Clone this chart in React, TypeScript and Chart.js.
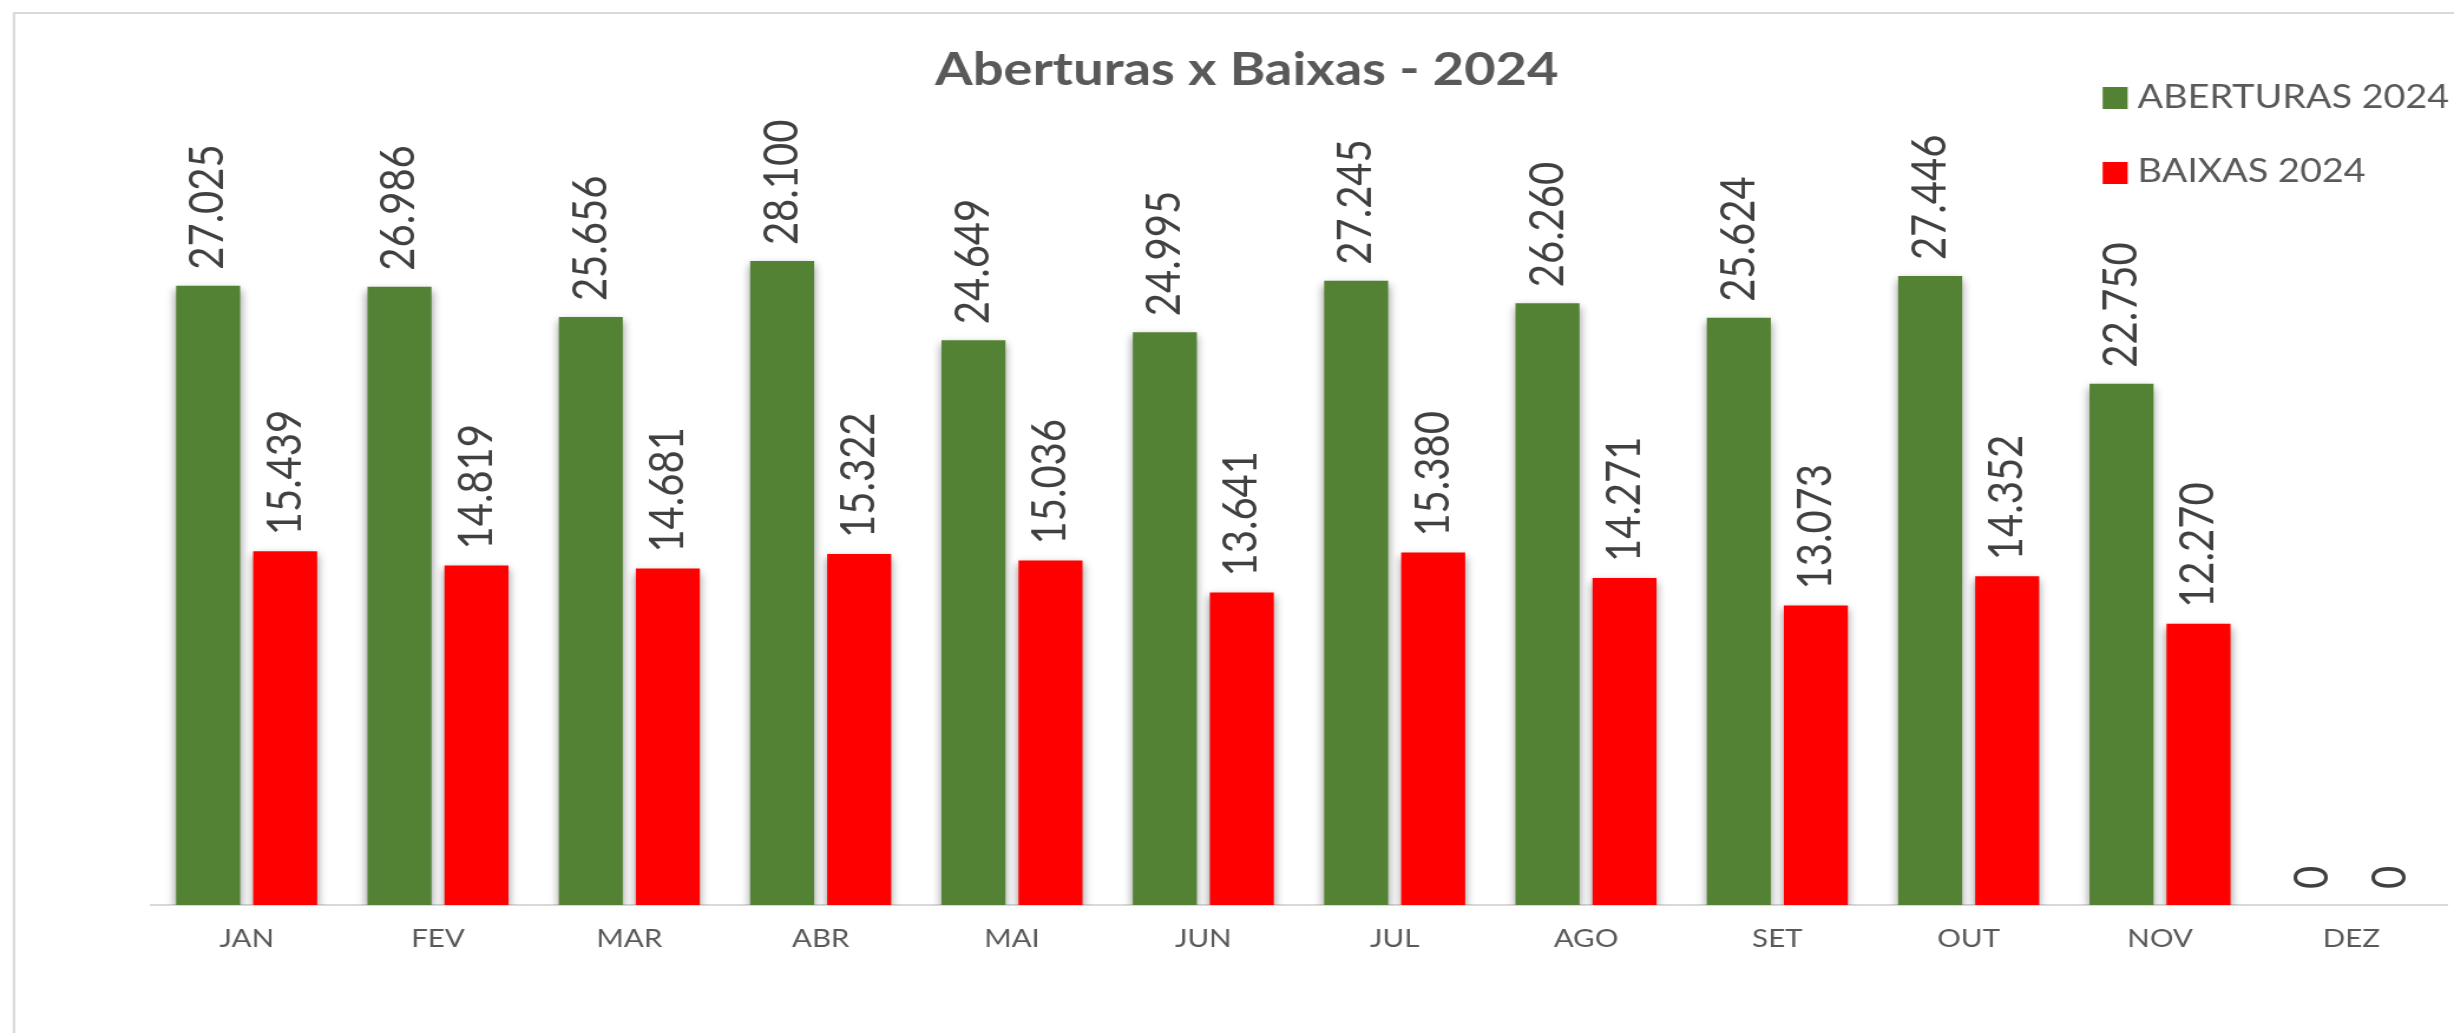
import React, { useEffect, useRef } from 'react';
import { Chart, registerables } from 'chart.js';

Chart.register(...registerables);

// Horizontal stretch of the original screenshot (canvas is drawn narrower and stretched by CSS)
const S = 1.18;
const W = Math.round(2454 / S);
const H = 1033;

const chartTitle = 'Aberturas x Baixas - 2024';
const categories = ['JAN', 'FEV', 'MAR', 'ABR', 'MAI', 'JUN', 'JUL', 'AGO', 'SET', 'OUT', 'NOV', 'DEZ'];
const aberturas2024 = [27025, 26986, 25656, 28100, 24649, 24995, 27245, 26260, 25624, 27446, 22750, 0];
const baixas2024 = [15439, 14819, 14681, 15322, 15036, 13641, 15380, 14271, 13073, 14352, 12270, 0];
const seriesNames = ['ABERTURAS 2024', 'BAIXAS 2024'];
const seriesColors = ['#548235', '#FF0000'];

function fmt(v: number): string {
  return String(v).replace(/\B(?=(\d{3})+(?!\d))/g, '.');
}

export default function App() {
  const ref = useRef<HTMLCanvasElement | null>(null);

  useEffect(() => {
    document.body.style.margin = '0';
    document.body.style.overflow = 'hidden';
    document.documentElement.style.overflow = 'hidden';
    const sx = (px: number) => px / S;

    const framePlugin = {
      id: 'frame',
      beforeDraw(chart: any) {
        const ctx = chart.ctx;
        ctx.save();
        ctx.strokeStyle = '#d9d9d9';
        ctx.lineWidth = 2.2;
        ctx.beginPath();
        ctx.moveTo(sx(14), H + 20);
        ctx.lineTo(sx(14), 13);
        ctx.lineTo(W + 20, 13);
        ctx.stroke();
        ctx.restore();
      },
    };

    const overlayPlugin = {
      id: 'overlay',
      beforeDatasetsDraw(chart: any) {
        const ctx = chart.ctx;
        ctx.save();
        ctx.shadowColor = 'rgba(0,0,0,0.45)';
        ctx.shadowBlur = 8;
        ctx.shadowOffsetX = 0;
        ctx.shadowOffsetY = 4;
      },
      afterDatasetsDraw(chart: any) {
        const ctx = chart.ctx;
        ctx.restore();
        ctx.save();
        ctx.fillStyle = '#404040';
        ctx.font = '40px Lato';
        ctx.textAlign = 'left';
        ctx.textBaseline = 'middle';
        chart.data.datasets.forEach((ds: any, di: number) => {
          const meta = chart.getDatasetMeta(di);
          meta.data.forEach((el: any, i: number) => {
            const v = ds.data[i];
            ctx.save();
            ctx.translate(el.x, el.y - 16);
            ctx.rotate(-Math.PI / 2);
            ctx.fillText(fmt(v), 0, 0);
            ctx.restore();
          });
        });
        ctx.restore();
      },
      afterDraw(chart: any) {
        const ctx = chart.ctx;
        ctx.save();
        // title
        ctx.fillStyle = '#595959';
        ctx.font = 'bold 46px Lato';
        ctx.textAlign = 'center';
        ctx.textBaseline = 'alphabetic';
        ctx.fillText(chartTitle, sx(1247), 85);
        // legend
        ctx.font = '32px Lato';
        ctx.textAlign = 'left';
        const rows = [
          { top: 87, base: 108 },
          { top: 162, base: 182 },
        ];
        chart.data.datasets.forEach((ds: any, i: number) => {
          const r = rows[i];
          ctx.fillStyle = ds.backgroundColor;
          ctx.fillRect(sx(2103), r.top, sx(25), 22);
          ctx.fillStyle = '#595959';
          ctx.fillText(ds.label, sx(2138), r.base);
        });
        ctx.restore();
      },
    };

    const chart = new Chart(ref.current as HTMLCanvasElement, {
      type: 'bar',
      data: {
        labels: categories,
        datasets: [
          {
            label: seriesNames[0],
            data: aberturas2024,
            backgroundColor: seriesColors[0],
            borderWidth: 0,
            categoryPercentage: 0.805,
            barPercentage: 0.831,
          },
          {
            label: seriesNames[1],
            data: baixas2024,
            backgroundColor: seriesColors[1],
            borderWidth: 0,
            categoryPercentage: 0.805,
            barPercentage: 0.831,
          },
        ],
      },
      options: {
        responsive: false,
        devicePixelRatio: 1,
        animation: false,
        layout: {
          padding: { left: sx(151), right: sx(2454 - 2447), top: 103, bottom: 0 },
        },
        plugins: {
          legend: { display: false },
          title: { display: false },
          tooltip: { enabled: false },
        },
        scales: {
          x: {
            grid: { display: true, drawOnChartArea: false, drawTicks: false, color: 'transparent' },
            border: { display: true, color: '#d9d9d9', width: 2 },
            ticks: {
              color: '#595959',
              font: { family: 'Lato', size: 25 },
              padding: 19,
              autoSkip: false,
              maxRotation: 0,
            },
            afterFit: (scale: any) => {
              scale.height = H - 905;
            },
          },
          y: {
            display: false,
            min: 0,
            max: 35000,
          },
        },
      },
      plugins: [framePlugin, overlayPlugin],
    } as any);

    return () => chart.destroy();
  }, []);

  return (
    <canvas
      ref={ref}
      width={W}
      height={H}
      style={{ width: '2454px', height: '1033px', display: 'block' }}
    />
  );
}
